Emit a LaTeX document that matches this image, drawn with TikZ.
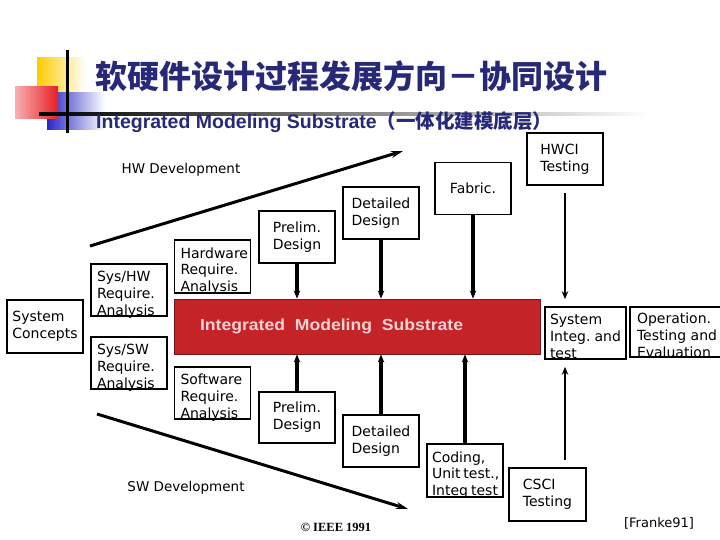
\documentclass[tikz,border=0pt]{standalone}
\usepackage{fontspec}
\usepackage{graphicx}
\usepackage{xcolor}
\setmainfont{DejaVu Sans}
\newfontfamily\cjkfont{Noto Sans CJK SC}
\newfontfamily\arialfont{Liberation Sans}
\newfontfamily\timesfont{Liberation Serif}
\usetikzlibrary{positioning}
\usetikzlibrary{arrows.meta}

\definecolor{titleblue}{RGB}{40,40,120}
\definecolor{imsred}{RGB}{196,36,40}
\definecolor{imstext}{RGB}{246,210,210}
\definecolor{decoyellow}{RGB}{255,204,0}
\definecolor{decored}{RGB}{232,30,36}
\definecolor{decoblue}{RGB}{40,40,200}

\newcommand{\overflowtext}[2][64pt]{\raisebox{8.5pt}[0pt][0pt]{\parbox[t]{#1}{#2}}}

\begin{document}
\begin{tikzpicture}[
            x=1pt, y=-1pt,
            boxframe/.style={draw, line width=1.6pt, inner sep=0pt, minimum width=76pt, minimum height=52pt, font=\fontsize{14}{16.8}\selectfont},
            box/.style={boxframe, align=left},
            devlabel/.style={inner sep=0pt, font=\fontsize{13.5}{16}\selectfont},
            ims/.style={draw=imsred!60!black, line width=0.8pt, fill=imsred, inner sep=0pt, minimum width=366pt, minimum height=55pt, text=imstext, font=\arialfont\bfseries\fontsize{16}{19}\selectfont},
            arrow style/.style={-{Stealth[length=8pt, width=6.5pt]}, line width=3.2pt},
            test arrow/.style={-{Stealth[length=8pt, width=6.5pt]}, line width=2pt, shorten <=7pt, shorten >=7pt},
            dev line/.style={-{Stealth[length=12pt, width=7pt]}, line width=3pt}
        ]
        \useasboundingbox (0,0) rectangle (720,540);

        \shade[left color=decoyellow, middle color=decoyellow, right color=white] (37,58) rectangle (86,100);
        \shade[left color=decoblue, middle color=decoblue, right color=white] (47,93) rectangle (105,130);
        \shade[left color=white!65!decored, right color=decored] (15,87) rectangle (58,119);
        \shade[left color=black, middle color=gray!70, right color=white] (39,112.5) rectangle (650,115.5);
        \fill[black] (65.5,50) rectangle (68.5,133);

        \node[anchor=west, inner sep=0pt, text=titleblue, font=\cjkfont\bfseries\fontsize{32}{36}\selectfont] (title) at (95,76) {软硬件设计过程发展方向－协同设计};
        \node[anchor=west, inner sep=0pt, text=titleblue, font=\fontsize{19.5}{22}\selectfont] (subtitle) at (96,122) {\arialfont\bfseries Integrated Modeling Substrate\cjkfont\bfseries（一体化建模底层）};

        \node[box] (hwci) at (565,159) {HWCI\\Testing};
        \node[box] (fabric) at (473,188.5) {Fabric.};
        \node[box] (hwdd) at (381,213) {Detailed\\Design};
        \node[box] (hwpd) at (297,237) {Prelim.\\Design};
        \node[boxframe, minimum height=53pt] (hwra) at (212.5,266.5) {\overflowtext{Hardware\\Require.\\Analysis}};
        \node[boxframe] (syshw) at (129,290) {\overflowtext{Sys/HW\\Require.\\Analysis}};
        \node[box, minimum height=53pt] (syscon) at (45,326.5) {System\\Concepts};
        \node[boxframe] (syssw) at (129,363) {\overflowtext{Sys/SW\\Require.\\Analysis}};
        \node[boxframe] (swra) at (212.5,393) {\overflowtext{Software\\Require.\\Analysis}};
        \node[ims] (ims) at (357,326.5) {\makebox[366pt][l]{\hspace{26pt}\scalebox{1.1}[1]{Integrated\ \ Modeling\ \ Substrate}}};
        \node[boxframe, minimum width=81pt] (sit) at (585.5,333) {\overflowtext[71pt]{System\\Integ.~and\\test}};
        \node[boxframe, minimum width=95pt, minimum height=50pt] (ote) at (677.5,332) {\overflowtext[81pt]{Operation.\\Testing~and\\Evaluation}};
        \node[box, minimum height=51pt] (swpd) at (297,417.5) {Prelim.\\Design};
        \node[box] (swdd) at (381,441) {Detailed\\Design};
        \node[boxframe, minimum height=53pt] (coding) at (465,470.5) {\overflowtext[66pt]{Coding,\\Unit~test.,\\Integ~test}};
        \node[box, minimum width=77pt, minimum height=53pt] (csci) at (547.5,494.5) {CSCI\\Testing};

        \coordinate (hwtail) at (90,246);
        \coordinate (hwhead) at (403,151);
        \coordinate (swtail) at (97,414);
        \coordinate (swhead) at (408,509);

        \draw[dev line] (hwtail) -- (hwhead);
        \draw[dev line] (swtail) -- (swhead);

        \node[devlabel] (hwlabel) at (181,170) {HW Development};
        \node[devlabel] (swlabel) at (186,488) {SW Development};

        \draw[arrow style] (hwpd.south) -- (hwpd.south |- ims.north);
        \draw[arrow style] (hwdd.south) -- (hwdd.south |- ims.north);
        \draw[arrow style] (fabric.south) -- (fabric.south |- ims.north);
        \draw[arrow style] (swpd.north) -- (swpd.north |- ims.south);
        \draw[arrow style] (swdd.north) -- (swdd.north |- ims.south);
        \draw[arrow style] (coding.north) -- (coding.north |- ims.south);
        \draw[test arrow] (hwci.south) -- (hwci.south |- sit.north);
        \draw[test arrow] (csci.north -| hwci.south) -- (sit.south -| hwci.south);

        \node[inner sep=0pt, font=\timesfont\bfseries\fontsize{12.5}{14}\selectfont] (ieee) at (336,527) {© IEEE 1991};
        \node[inner sep=0pt, font=\fontsize{13}{15}\selectfont] (cite) at (659,523) {[Franke91]};
        \end{tikzpicture}
\end{document}
